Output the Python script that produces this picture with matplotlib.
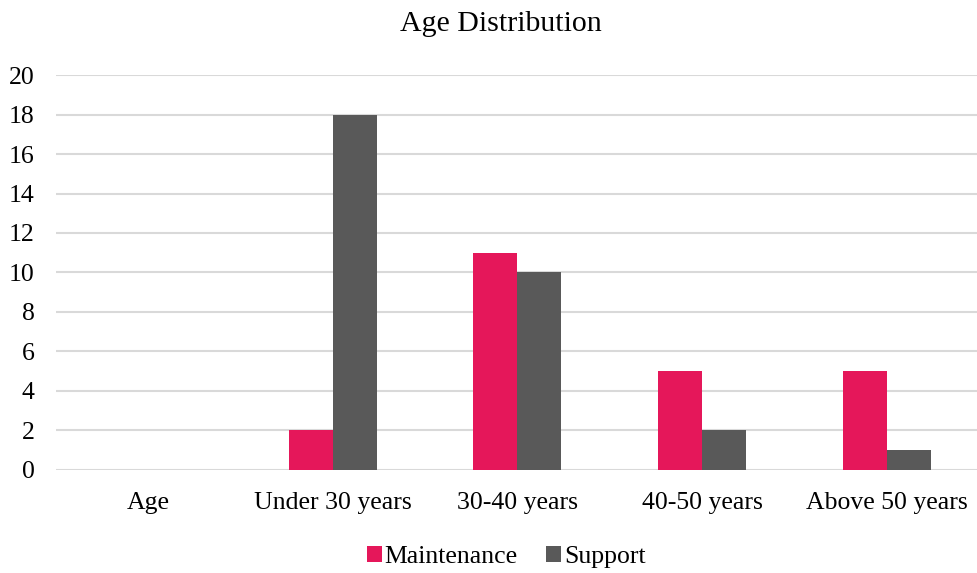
import matplotlib.pyplot as plt
import numpy as np

categories = ["Age", "Under 30 years", "30-40 years", "40-50 years", "Above 50 years"]
maintenance = [0, 2, 11, 5, 5]
support = [0, 18, 10, 2, 1]

plt.rcParams["font.family"] = ["Liberation Serif", "DejaVu Serif"]

fig = plt.figure(figsize=(9.77, 5.73), dpi=100)
ax = fig.add_axes([0.057, 0.18, 0.945, 0.689])

x = np.arange(len(categories))
w = 0.238
ax.bar(x - w / 2, maintenance, w, color="#E5175A", label="Maintenance", zorder=3)
ax.bar(x + w / 2, support, w, color="#595959", label="Support", zorder=3)

ax.set_xlim(-0.5, 4.5)
ax.set_ylim(0, 20)
ax.set_yticks(range(0, 21, 2))
ax.set_xticks(x)
ax.set_xticklabels(categories)
ax.tick_params(axis="both", length=0, labelsize=18.5, colors="black")
ax.tick_params(axis="x", pad=16)
ax.tick_params(axis="y", pad=15)
ax.grid(axis="y", color="#D9D9D9", linewidth=1.5, zorder=0)
for s in ax.spines.values():
    s.set_visible(False)

fig.text(0.513, 0.958, "Age Distribution", ha="center", va="center", fontsize=21.5)
fig.legend(loc="center", bbox_to_anchor=(0.518, 0.028), ncol=2, frameon=False,
           fontsize=18.5, handlelength=0.6, handleheight=0.6, handletextpad=0.1,
           columnspacing=1.1)

fig.savefig("out.png", dpi=100)
